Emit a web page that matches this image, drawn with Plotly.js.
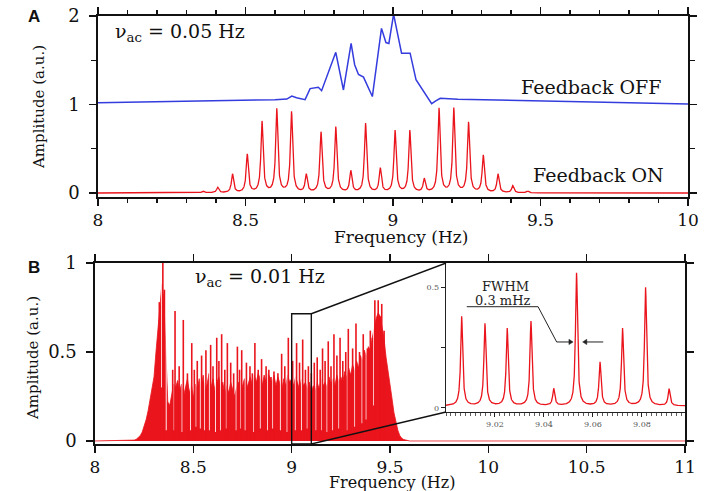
<!DOCTYPE html>
<html>
<head>
<meta charset="utf-8">
<script src="https://cdn.plot.ly/plotly-3.0.1.min.js"></script>
<style>html,body{margin:0;padding:0;background:#fff;}#chart{width:706px;height:491px;}</style>
</head>
<body>
<div id="chart"></div>
<script>
// ---------- Panel A : Feedback OFF (blue trace, read points) ----------
const offFreq = [8.0, 8.2, 8.4, 8.5, 8.6, 8.64, 8.657, 8.673, 8.69, 8.702, 8.719, 8.735, 8.747, 8.758, 8.784, 8.806, 8.832, 8.858, 8.87, 8.883, 8.9, 8.93, 8.961, 8.976, 8.986, 9.002, 9.029, 9.058, 9.078, 9.097, 9.12, 9.131, 9.145, 9.16, 9.22, 9.4, 9.6, 9.8, 10.0];
const offAmp  = [1.02, 1.03, 1.04, 1.045, 1.055, 1.062, 1.096, 1.077, 1.06, 1.055, 1.18, 1.19, 1.194, 1.156, 1.39, 1.59, 1.164, 1.69, 1.45, 1.34, 1.31, 1.09, 1.86, 1.70, 1.69, 2.02, 1.58, 1.58, 1.28, 1.18, 1.06, 1.01, 1.04, 1.07, 1.06, 1.045, 1.03, 1.02, 1.006];

// ---------- Panel A : Feedback ON (peak centres and heights) ----------
const onPeakFreq = [8.356, 8.406, 8.456, 8.506, 8.556, 8.606, 8.656, 8.706, 8.756, 8.806, 8.857, 8.907, 8.957, 9.007, 9.057, 9.106, 9.156, 9.206, 9.256, 9.306, 9.356, 9.406, 9.457];
const onPeakAmp  = [0.02, 0.06, 0.21, 0.43, 0.80, 0.94, 0.91, 0.20, 0.68, 0.74, 0.24, 0.78, 0.27, 0.70, 0.70, 0.15, 0.95, 0.95, 0.79, 0.42, 0.21, 0.08, 0.02];

// ---------- Panel B : dense spectrum (mass level every 0.01 Hz from 8.20) ----------
const massStart = 8.20, massStep = 0.01;
const massAmp = [
 0.005,0.01,0.02,0.03,0.05,0.08,0.12,0.17,0.24,0.30,
 0.36,0.50,0.62,0.78,0.88,0.80,0.45,0.22,0.20,0.27,
 0.32,0.30,0.34,0.28,0.32,0.25,0.30,0.35,0.27,0.32,
 0.24,0.32,0.29,0.35,0.30,0.37,0.28,0.32,0.38,0.30,
 0.35,0.28,0.33,0.36,0.29,0.33,0.26,0.31,0.27,0.33,
 0.29,0.25,0.30,0.33,0.27,0.31,0.35,0.29,0.33,0.36,
 0.31,0.37,0.33,0.38,0.35,0.31,0.37,0.33,0.38,0.35,
 0.33,0.37,0.31,0.36,0.33,0.29,0.35,0.31,0.37,0.33,
 0.35,0.31,0.36,0.33,0.29,0.35,0.31,0.33,0.29,0.33,
 0.27,0.31,0.28,0.33,0.29,0.35,0.31,0.33,0.30,0.36,
 0.32,0.35,0.31,0.37,0.33,0.36,0.33,0.39,0.35,0.41,
 0.37,0.43,0.39,0.45,0.41,0.48,0.45,0.51,0.47,0.53,
 0.51,0.58,0.63,0.69,0.72,0.70,0.64,0.57,0.47,0.40,
 0.32,0.24,0.16,0.10,0.06,0.03,0.015,0.008,0.004,0.002,
 0.0];
// spikes of panel B (tall and secondary)
const spikeFreq = [8.327, 8.345, 8.353, 8.395, 8.407, 8.428, 8.449, 8.470, 8.492, 8.505, 8.520, 8.542, 8.564, 8.588, 8.600, 8.619, 8.630, 8.644, 8.660, 8.673, 8.690, 8.705, 8.724, 8.735, 8.746, 8.770, 8.788, 8.800, 8.813, 8.830, 8.847, 8.870, 8.884, 8.895, 8.910, 8.930, 8.949, 8.965, 8.983, 9.005, 9.025, 9.040, 9.056, 9.070, 9.085, 9.100, 9.115, 9.130, 9.145, 9.157, 9.170, 9.186, 9.200, 9.215, 9.230, 9.246, 9.260, 9.275, 9.288, 9.310, 9.327, 9.345, 9.364, 9.385, 9.400, 9.410, 9.423, 9.440, 9.450, 9.458, 9.470];
const spikeAmp  = [0.78, 1.00, 0.85, 0.40, 0.73, 0.42, 0.68, 0.38, 0.55, 0.40, 0.45, 0.48, 0.51, 0.54, 0.42, 0.58, 0.45, 0.60, 0.40, 0.55, 0.44, 0.38, 0.53, 0.40, 0.51, 0.44, 0.42, 0.38, 0.55, 0.40, 0.46, 0.42, 0.40, 0.36, 0.39, 0.38, 0.49, 0.42, 0.58, 0.45, 0.55, 0.44, 0.57, 0.40, 0.42, 0.38, 0.44, 0.47, 0.40, 0.52, 0.45, 0.56, 0.42, 0.60, 0.48, 0.58, 0.45, 0.50, 0.63, 0.52, 0.66, 0.50, 0.60, 0.52, 0.62, 0.58, 0.79, 0.79, 0.70, 0.77, 0.62];
// white gaps inside the mass
const gapFreq  = [8.339, 8.362, 8.401, 8.443, 8.486, 8.514, 8.536, 8.558, 8.582, 8.613, 8.638, 8.667, 8.718, 8.740, 8.764, 8.807, 8.841, 8.878, 8.904, 8.943, 8.977, 9.019, 9.050, 9.079, 9.124, 9.151, 9.180, 9.209, 9.240, 9.282, 9.321, 9.358, 9.379, 9.417];
const gapFloor = [0.30, 0.06, 0.06, 0.05, 0.06, 0.08, 0.07, 0.06, 0.06, 0.05, 0.06, 0.07, 0.06, 0.07, 0.06, 0.05, 0.07, 0.06, 0.07, 0.06, 0.05, 0.06, 0.06, 0.07, 0.06, 0.06, 0.05, 0.06, 0.07, 0.06, 0.08, 0.10, 0.12, 0.20];

// ---------- Panel B inset ----------
const insetPeakFreq = [9.0064, 9.0159, 9.0250, 9.0347, 9.0440, 9.0533, 9.0629, 9.0721, 9.0815, 9.0911];
const insetPeakAmp  = [0.37, 0.34, 0.32, 0.35, 0.07, 0.55, 0.18, 0.32, 0.49, 0.07];
const insetBase = 0.008;
const insetTickVals = [9.02, 9.04, 9.06, 9.08];
const insetTickText = ['9.02', '9.04', '9.06', '9.08'];

// ---------- line shapes ----------
function lorSum(x, fs, as, g) { let s = 0; for (let i = 0; i < fs.length; i++) { const d = (x - fs[i]) / g; s += as[i] / (1 + d * d); } return s; }

const RED = 'rgb(234,20,28)', BLUE = 'rgb(52,60,222)';
const FONT = 'DejaVu Serif';

const aX = [], aY = [];
for (let i = 0; i <= 4000; i++) { const x = 8 + i * 0.0005; aX.push(x); aY.push(lorSum(x, onPeakFreq, onPeakAmp, 0.0045)); }

const mX = [8.0], mY = [0];
massAmp.forEach((v, i) => { mX.push(massStart + i * massStep); mY.push(v); });
mX.push(11.0); mY.push(0);

const sX = [], sY = [];
spikeFreq.forEach((f, i) => { sX.push(f, f, null); sY.push(0, spikeAmp[i], null); });
const gX = [], gY = [];
gapFreq.forEach((f, i) => { gX.push(f, f, null); gY.push(gapFloor[i], 0.95, null); });

const iX = [], iY = [];
for (let i = 0; i <= 1952; i++) { const x = 9.0 + i * 0.00005; iX.push(x); iY.push(insetBase + lorSum(x, insetPeakFreq, insetPeakAmp, 0.0005)); }

const traces = [
  {x: offFreq, y: offAmp, xaxis: 'x', yaxis: 'y', mode: 'lines', line: {color: BLUE, width: 1.5}},
  {x: aX, y: aY, xaxis: 'x', yaxis: 'y', mode: 'lines', line: {color: RED, width: 1.3}},
  {x: mX, y: mY, xaxis: 'x2', yaxis: 'y2', mode: 'lines', fill: 'tozeroy', fillcolor: RED, line: {color: RED, width: 0.8}},
  {x: gX, y: gY, xaxis: 'x2', yaxis: 'y2', mode: 'lines', line: {color: 'rgba(255,255,255,0.9)', width: 1.1}},
  {x: sX, y: sY, xaxis: 'x2', yaxis: 'y2', mode: 'lines', line: {color: RED, width: 1.6}},
  {x: iX, y: iY, xaxis: 'x3', yaxis: 'y3', mode: 'lines', line: {color: RED, width: 1.3}}
];

const W = 706, H = 491;
const px = v => v / W, py = v => 1 - v / H;
const domAx = [px(98), px(688)], domAy = [py(197), py(16)];
const domBx = [px(95), px(685)], domBy = [py(444), py(263)];
const domIx = [px(446), px(685)], domIy = [py(412), py(263)];
const rangeBx = [8, 11], rangeBy = [-0.017, 1.0];

const common = {showgrid: false, zeroline: false, showline: true, linecolor: '#111', linewidth: 1.6,
  ticks: 'outside', tickcolor: '#111', tickwidth: 1.3, ticklen: 7, mirror: 'allticks',
  tickfont: {family: FONT, size: 17, color: '#111'}};

const layout = {
  width: W, height: H, margin: {l: 0, r: 0, t: 0, b: 0},
  paper_bgcolor: '#fff', plot_bgcolor: 'rgba(0,0,0,0)', showlegend: false,
  xaxis: Object.assign({}, common, {domain: domAx, anchor: 'y', range: [8, 10], tick0: 8, dtick: 0.5,
    minor: {dtick: 0.1, ticks: 'outside', ticklen: 4, tickwidth: 1.1, tickcolor: '#111'}}),
  yaxis: Object.assign({}, common, {domain: domAy, anchor: 'x', range: [-0.045, 2.0], tickvals: [0, 1, 2], ticktext: ['0', '1', '2'],
    ticklabelstandoff: 6, tickfont: {family: FONT, size: 18, color: '#111'}, minor: {tickvals: [0.5, 1.5], ticks: 'outside', ticklen: 5, tickwidth: 1.1, tickcolor: '#111'}}),
  xaxis2: Object.assign({}, common, {domain: domBx, anchor: 'y2', range: rangeBx, tick0: 8, dtick: 0.5}),
  yaxis2: Object.assign({}, common, {domain: domBy, anchor: 'x2', range: rangeBy, tickvals: [0, 0.5, 1], ticktext: ['0', '0.5', '1'], ticklabelstandoff: 6, tickfont: {family: FONT, size: 18, color: '#111'}}),
  xaxis3: {domain: domIx, anchor: 'y3', range: [9.0, 9.0976], showgrid: false, zeroline: false, showline: true, linecolor: '#222', linewidth: 1.2,
    ticks: 'outside', ticklen: 4, tickwidth: 1, tickcolor: '#222', tickvals: insetTickVals, ticktext: insetTickText,
    tickfont: {family: FONT, size: 8, color: '#555'}, minor: {dtick: 0.002, tick0: 9.0, ticks: 'outside', ticklen: 3, tickwidth: 0.8, tickcolor: '#333'}},
  yaxis3: {domain: domIy, anchor: 'x3', range: [-0.017, 0.6], showgrid: false, zeroline: false, showline: true, linecolor: '#222', linewidth: 1.2,
    ticks: 'outside', ticklen: 4, tickwidth: 1, tickcolor: '#222', tickvals: [0, 0.5], ticktext: ['0', '0.5'],
    tickfont: {family: FONT, size: 8, color: '#555'}, minor: {tickvals: [0.25], ticks: 'outside', ticklen: 4, tickwidth: 1, tickcolor: '#222'}},
  shapes: [],
  annotations: []
};

// zoom rectangle + connectors (inset corners converted into panel-B data units)
const toBx = p => rangeBx[0] + (p - domBx[0]) / (domBx[1] - domBx[0]) * (rangeBx[1] - rangeBx[0]);
const toBy = p => rangeBy[0] + (p - domBy[0]) / (domBy[1] - domBy[0]) * (rangeBy[1] - rangeBy[0]);
const zoomLo = 9.0, zoomHi = 9.1, zoomTop = 0.715;
const blk = {color: '#111', width: 1.4};
layout.shapes.push({type: 'rect', xref: 'x2', yref: 'y2', x0: zoomLo, x1: zoomHi, y0: rangeBy[0], y1: zoomTop, line: blk});
layout.shapes.push({type: 'line', xref: 'x2', yref: 'y2', x0: zoomHi, y0: zoomTop, x1: toBx(domIx[0]), y1: toBy(domIy[1]), line: blk});
layout.shapes.push({type: 'line', xref: 'x2', yref: 'y2', x0: zoomHi, y0: rangeBy[0], x1: toBx(domIx[0]), y1: toBy(domIy[0]), line: blk});
// FWHM pointer: underline, leader, and two arrows (shaft + head)
const ptr = {color: '#222', width: 1};
const arrowY = 0.273;
layout.shapes.push({type: 'line', xref: 'x3', yref: 'y3', x0: 9.0085, x1: 9.0376, y0: 0.419, y1: 0.419, line: ptr});
layout.shapes.push({type: 'line', xref: 'x3', yref: 'y3', x0: 9.0376, x1: 9.0452, y0: 0.419, y1: arrowY, line: ptr});
layout.shapes.push({type: 'line', xref: 'x3', yref: 'y3', x0: 9.0452, x1: 9.0505, y0: arrowY, y1: arrowY, line: ptr});
layout.shapes.push({type: 'path', xref: 'x3', yref: 'y3', path: `M 9.0502 ${arrowY + 0.011} L 9.0519 ${arrowY} L 9.0502 ${arrowY - 0.011} Z`, fillcolor: '#222', line: {color: '#222', width: 0.5}});
layout.shapes.push({type: 'line', xref: 'x3', yref: 'y3', x0: 9.0572, x1: 9.0642, y0: arrowY, y1: arrowY, line: ptr});
layout.shapes.push({type: 'path', xref: 'x3', yref: 'y3', path: `M 9.0575 ${arrowY + 0.011} L 9.0558 ${arrowY} L 9.0575 ${arrowY - 0.011} Z`, fillcolor: '#222', line: {color: '#222', width: 0.5}});
const mid = {xanchor: 'center', yanchor: 'middle', showarrow: false};
layout.annotations.push(Object.assign({xref: 'x3', yref: 'y3', x: 9.0245, y: 0.503, text: 'FWHM', font: {family: FONT, size: 13, color: '#222'}}, mid));
layout.annotations.push(Object.assign({xref: 'x3', yref: 'y3', x: 9.0232, y: 0.446, text: '0.3 mHz', font: {family: FONT, size: 13, color: '#222'}}, mid));

// text labels
const tf = s => ({family: FONT, size: s, color: '#111'});
layout.annotations.push(Object.assign({xref: 'x', yref: 'y', x: 8.051, y: 1.81, text: 'ν<sub>ac</sub> = 0.05 Hz', font: tf(19)}, mid, {xanchor: 'left'}));
layout.annotations.push(Object.assign({xref: 'x', yref: 'y', x: 9.915, y: 1.20, text: 'Feedback OFF', font: tf(19)}, mid, {xanchor: 'right'}));
layout.annotations.push(Object.assign({xref: 'x', yref: 'y', x: 9.925, y: 0.20, text: 'Feedback ON', font: tf(19)}, mid, {xanchor: 'right'}));
layout.annotations.push(Object.assign({xref: 'x2', yref: 'y2', x: 8.498, y: 0.916, text: 'ν<sub>ac</sub> = 0.01 Hz', font: tf(19)}, mid, {xanchor: 'left'}));
layout.annotations.push(Object.assign({xref: 'paper', yref: 'paper', x: px(34), y: py(17), text: '<b>A</b>', font: {family: 'Liberation Sans', size: 17, color: '#111'}}, mid));
layout.annotations.push(Object.assign({xref: 'paper', yref: 'paper', x: px(34), y: py(267), text: '<b>B</b>', font: {family: 'Liberation Sans', size: 17, color: '#111'}}, mid));
layout.annotations.push(Object.assign({xref: 'paper', yref: 'paper', x: px(39), y: py(107), text: 'Amplitude (a.u.)', textangle: -90, font: tf(15)}, mid));
layout.annotations.push(Object.assign({xref: 'paper', yref: 'paper', x: px(33), y: py(358), text: 'Amplitude (a.u.)', textangle: -90, font: tf(15)}, mid));
layout.annotations.push(Object.assign({xref: 'paper', yref: 'paper', x: px(401), y: py(237), text: 'Frequency (Hz)', font: tf(17)}, mid));
layout.annotations.push(Object.assign({xref: 'paper', yref: 'paper', x: px(392), y: py(482.5), text: 'Frequency (Hz)', font: tf(16)}, mid));

Plotly.newPlot('chart', traces, layout, {staticPlot: true, displayModeBar: false});
</script>
</body>
</html>
